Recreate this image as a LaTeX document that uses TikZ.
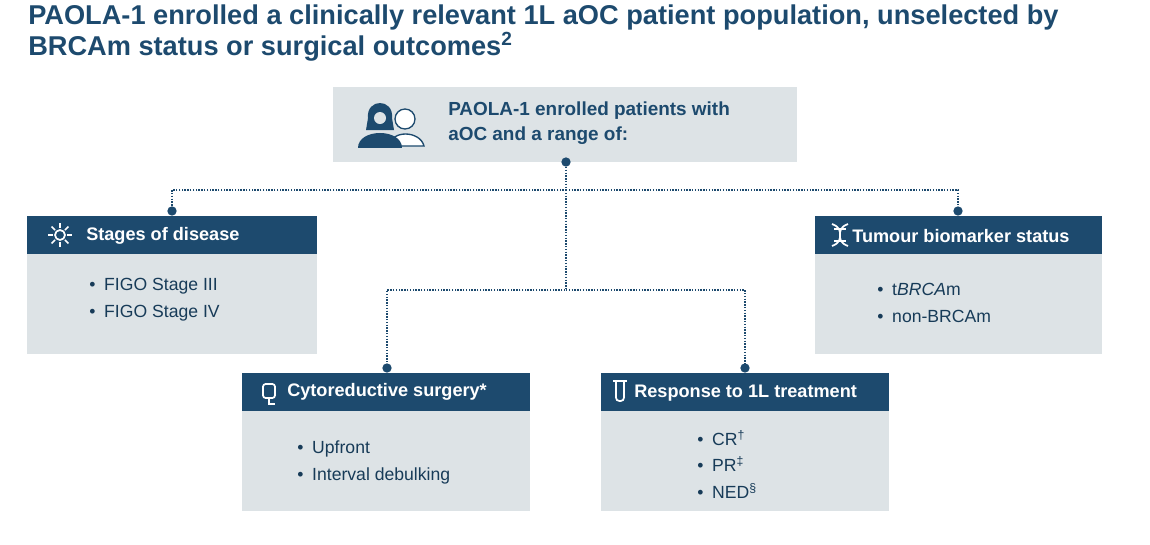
\documentclass[tikz,border=0pt]{standalone}
\usepackage{fontspec}
\setmainfont{Liberation Sans}
\usetikzlibrary{positioning}
\definecolor{navy}{HTML}{1D4A6E}
\definecolor{panel}{HTML}{DDE3E6}

\begin{document}
\begin{tikzpicture}[x=0.75pt,y=-0.75pt,
  head/.style={text=white,font=\fontsize{13.6}{15}\selectfont\bfseries,anchor=west,inner sep=0pt},
  item/.style={text=navy!80!black,font=\fontsize{13.2}{15}\selectfont,anchor=west,inner sep=0pt},
  link/.style={navy,densely dotted,line width=1.1pt},
  dot/.style={circle,fill=navy,inner sep=0pt,minimum size=7pt}]

  \useasboundingbox (0,0) rectangle (1150,544);

  % title
  \node[anchor=north west,text=navy,font=\fontsize{20.4}{23}\selectfont\bfseries,align=left,inner sep=0pt]
    (title) at (28,5) {PAOLA-1 enrolled a clinically relevant 1L aOC patient population, unselected by\\
    BRCAm status or surgical outcomes\textsuperscript{2}};

  % top box
  \fill[panel] (333,87) rectangle (797,162);
  \node[anchor=west,text=navy,font=\fontsize{14.2}{19}\selectfont\bfseries,align=left,inner sep=0pt]
    (top) at (448,123) {PAOLA-1 enrolled patients with\\aOC and a range of:};
  % people icon
  \begin{scope}[navy]
    \draw[line width=1pt,fill=white] (405,119) circle (10) (390,146) .. controls (390,130) and (420,130) .. (424,146) -- cycle;
    \fill (380,116) circle (11);
    \fill (358,148) .. controls (358,128) and (402,128) .. (402,148) -- cycle;
    \fill (368,118) .. controls (366,98) and (394,98) .. (392,118) -- (394,130) -- (366,130) -- cycle;
  \end{scope}
  \fill[panel] (380,118) circle (6);

  % boxes
  \fill[panel] (27,254) rectangle (317,354);
  \fill[navy] (27,216) rectangle (317,254);
  \node[head] (stage) at (86,236) {Stages of disease};
  \fill[panel] (815,254) rectangle (1102,354);
  \fill[navy] (815,216) rectangle (1102,254);
  \node[head] (tumour) at (852,236) {Tumour biomarker status};
  \fill[panel] (242,411) rectangle (530,511);
  \fill[navy] (242,373) rectangle (530,411);
  \node[head] (cyto) at (287,392) {Cytoreductive surgery*};
  \fill[panel] (601,411) rectangle (889,511);
  \fill[navy] (601,373) rectangle (889,411);
  \node[head] (resp) at (634,393) {Response to 1L treatment};

  % header icons
  \begin{scope}[white,line width=1.3pt]
    \draw (60,235) circle (5);
    \foreach \a in {0,45,...,315} \draw (60,235) ++(\a:7) -- ++(\a:5);
    \draw (832,224) .. controls (848,230) and (832,240) .. (848,246);
    \draw (848,224) .. controls (832,230) and (848,240) .. (832,246);
    \draw (834,229) -- (846,229) (834,241) -- (846,241);
    \draw[rounded corners=2pt] (263,384) rectangle (275,398);
    \draw (269,398) -- (269,404) -- (275,404);
    \draw[rounded corners=2.5pt] (616,381) -- (616,401) -- (624,401) -- (624,381);
    \draw (613,381) -- (627,381);
  \end{scope}

  % dots and links
  \node[dot] (d0) at (566,162) {};
  \node[dot] (d1) at (172,211) {};
  \node[dot] (d2) at (958,211) {};
  \node[dot] (d3) at (387,368) {};
  \node[dot] (d4) at (745,368) {};
  \coordinate (j1) at (566,190);
  \coordinate (j2) at (566,290);
  \draw[link] (d0) -- (j1) -| (d1);
  \draw[link] (j1) -| (d2);
  \draw[link] (j1) -- (j2) -| (d3);
  \draw[link] (j2) -| (d4);

  % items
  \node[item] (s1) at (89,286) {\textbullet\enspace FIGO Stage III};
  \node[item] (s2) at (89,313) {\textbullet\enspace FIGO Stage IV};
  \node[item] (t1) at (877,289) {\textbullet\enspace t\textit{BRCA}m};
  \node[item] (t2) at (877,316) {\textbullet\enspace non-BRCAm};
  \node[item] (c1) at (297,449) {\textbullet\enspace Upfront};
  \node[item] (c2) at (297,476) {\textbullet\enspace Interval debulking};
  \node[item] (r1) at (697,438) {\textbullet\enspace CR\textsuperscript{\dag}};
  \node[item] (r2) at (697,464) {\textbullet\enspace PR\textsuperscript{\ddag}};
  \node[item] (r3) at (697,491) {\textbullet\enspace NED\textsuperscript{\S}};
\end{tikzpicture}
\end{document}
